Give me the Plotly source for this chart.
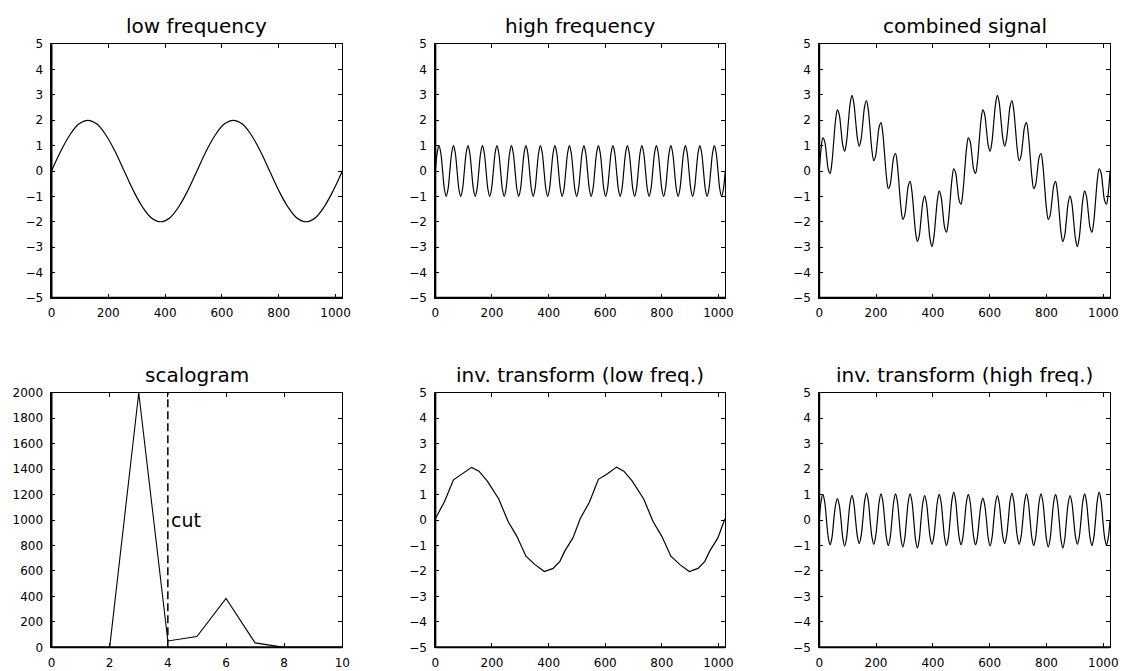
import plotly.graph_objects as go
from plotly.subplots import make_subplots

# ---------------- data ----------------
N_MAX = 1024
STEP_SLOW = 32.0     # sample spacing for the slow sine
STEP_FAST = 6.4      # sample spacing for the fast (20-cycle) traces

LOW = [0, 0.77, 1.41, 1.85, 2.0, 1.85, 1.41, 0.77, 0, -0.77, -1.41, -1.85, -2.0, -1.85, -1.41, -0.77,
       0, 0.77, 1.41, 1.85, 2.0, 1.85, 1.41, 0.77, 0, -0.77, -1.41, -1.85, -2.0, -1.85, -1.41, -0.77, 0]

HIGH = [0, 0.71, 1, 0.71, 0, -0.71, -1, -0.71, 0, 0.71, 1, 0.71, 0, -0.71, -1, -0.71,
        0, 0.71, 1, 0.71, 0, -0.71, -1, -0.71, 0, 0.71, 1, 0.71, 0, -0.71, -1, -0.71,
        0, 0.71, 1, 0.71, 0, -0.71, -1, -0.71, 0, 0.71, 1, 0.71, 0, -0.71, -1, -0.71,
        0, 0.71, 1, 0.71, 0, -0.71, -1, -0.71, 0, 0.71, 1, 0.71, 0, -0.71, -1, -0.71,
        0, 0.71, 1, 0.71, 0, -0.71, -1, -0.71, 0, 0.71, 1, 0.71, 0, -0.71, -1, -0.71,
        0, 0.71, 1, 0.71, 0, -0.71, -1, -0.71, 0, 0.71, 1, 0.71, 0, -0.71, -1, -0.71,
        0, 0.71, 1, 0.71, 0, -0.71, -1, -0.71, 0, 0.71, 1, 0.71, 0, -0.71, -1, -0.71,
        0, 0.71, 1, 0.71, 0, -0.71, -1, -0.71, 0, 0.71, 1, 0.71, 0, -0.71, -1, -0.71,
        0, 0.71, 1, 0.71, 0, -0.71, -1, -0.71, 0, 0.71, 1, 0.71, 0, -0.71, -1, -0.71,
        0, 0.71, 1, 0.71, 0, -0.71, -1, -0.71, 0, 0.71, 1, 0.71, 0, -0.71, -1, -0.71, 0]

COMBINED = [0, 0.86, 1.31, 1.17, 0.62, 0.06, -0.09, 0.34, 1.18, 2.01, 2.41, 2.23, 1.62, 1.0, 0.78, 1.14,
            1.90, 2.65, 2.98, 2.70, 2.0, 1.29, 0.98, 1.24, 1.90, 2.56, 2.78, 2.41, 1.62, 0.81, 0.41, 0.59,
            1.18, 1.75, 1.91, 1.47, 0.62, -0.24, -0.69, -0.55, 0, 0.55, 0.69, 0.24, -0.62, -1.47, -1.91, -1.75,
            -1.18, -0.59, -0.41, -0.81, -1.62, -2.41, -2.78, -2.56, -1.90, -1.24, -0.98, -1.29, -2.0, -2.70, -2.98, -2.65,
            -1.90, -1.14, -0.78, -1.0, -1.62, -2.23, -2.41, -2.01, -1.18, -0.34, 0.09, -0.06, -0.62, -1.17, -1.31, -0.86,
            0, 0.86, 1.31, 1.17, 0.62, 0.06, -0.09, 0.34, 1.18, 2.01, 2.41, 2.23, 1.62, 1.0, 0.78, 1.14,
            1.90, 2.65, 2.98, 2.70, 2.0, 1.29, 0.98, 1.24, 1.90, 2.56, 2.78, 2.41, 1.62, 0.81, 0.41, 0.59,
            1.18, 1.75, 1.91, 1.47, 0.62, -0.24, -0.69, -0.55, 0, 0.55, 0.69, 0.24, -0.62, -1.47, -1.91, -1.75,
            -1.18, -0.59, -0.41, -0.81, -1.62, -2.41, -2.78, -2.56, -1.90, -1.24, -0.98, -1.29, -2.0, -2.70, -2.98, -2.65,
            -1.90, -1.14, -0.78, -1.0, -1.62, -2.23, -2.41, -2.01, -1.18, -0.34, 0.09, -0.06, -0.62, -1.17, -1.31, -0.86, 0]

SCALE_LEVEL = [0, 1, 2, 3, 4, 5, 6, 7, 8, 9, 10]
SCALE_ENERGY = [0, 0, 0, 2000, 50, 85, 385, 35, 0, 0, 0]
CUT_LEVEL = 4

INV_LOW_X = [0, 32, 64, 96, 128, 154, 183, 224, 257, 288, 320, 352, 385, 416, 440, 457, 486,
             512, 544, 576, 608, 640, 666, 695, 736, 769, 800, 832, 864, 897, 928, 952, 969, 998, 1023]
INV_LOW_Y = [0.05, 0.72, 1.58, 1.82, 2.07, 1.92, 1.54, 0.83, -0.06, -0.64, -1.42, -1.75, -2.02, -1.90, -1.62, -1.22, -0.70,
             0.06, 0.70, 1.60, 1.82, 2.08, 1.92, 1.54, 0.83, -0.06, -0.64, -1.42, -1.75, -2.02, -1.90, -1.62, -1.22, -0.70, 0.05]

INV_HIGH = [0, 0.72, 1.01, 0.72, 0, -0.69, -0.97, -0.69,
            0, 0.60, 0.84, 0.60, 0, -0.72, -1.02, -0.72,
            0, 0.69, 0.97, 0.69, 0, -0.65, -0.92, -0.65,
            0, 0.75, 1.06, 0.75, 0, -0.67, -0.95, -0.67,
            0, 0.73, 1.03, 0.73, 0, -0.71, -1.00, -0.71,
            0, 0.73, 1.03, 0.73, 0, -0.75, -1.06, -0.75,
            0, 0.73, 1.03, 0.73, 0, -0.78, -1.10, -0.78,
            0, 0.68, 0.96, 0.68, 0, -0.67, -0.95, -0.67,
            0, 0.72, 1.01, 0.72, 0, -0.71, -1.00, -0.71,
            0, 0.78, 1.10, 0.78, 0, -0.69, -0.97, -0.69,
            0, 0.72, 1.01, 0.72, 0, -0.69, -0.97, -0.69,
            0, 0.61, 0.86, 0.61, 0, -0.72, -1.02, -0.72,
            0, 0.68, 0.96, 0.68, 0, -0.65, -0.92, -0.65,
            0, 0.75, 1.06, 0.75, 0, -0.67, -0.95, -0.67,
            0, 0.73, 1.03, 0.73, 0, -0.71, -1.00, -0.71,
            0, 0.73, 1.03, 0.73, 0, -0.75, -1.06, -0.75,
            0, 0.72, 1.01, 0.72, 0, -0.78, -1.10, -0.78,
            0, 0.68, 0.96, 0.68, 0, -0.67, -0.95, -0.67,
            0, 0.73, 1.03, 0.73, 0, -0.71, -1.00, -0.71,
            0, 0.78, 1.10, 0.78, 0, -0.69, -0.97, -0.69, 0]

TITLES = ["low frequency", "high frequency", "combined signal",
          "scalogram", "inv. transform (low freq.)", "inv. transform (high freq.)"]

SIGNAL_TICKS_X = [0, 200, 400, 600, 800, 1000]
SIGNAL_TICKS_Y = [-5, -4, -3, -2, -1, 0, 1, 2, 3, 4, 5]
SCALE_TICKS_X = [0, 2, 4, 6, 8, 10]
SCALE_TICKS_Y = [0, 200, 400, 600, 800, 1000, 1200, 1400, 1600, 1800, 2000]

# ---------------- figure ----------------
W, H = 1126, 671
FONT = "DejaVu Sans"

x_slow = [i * STEP_SLOW for i in range(len(LOW))]
x_fast = [i * STEP_FAST for i in range(len(HIGH))]

fig = make_subplots(rows=2, cols=3)

line_style = dict(color="black", width=1.2)
spline = dict(color="black", width=1.2, shape="spline", smoothing=1.0)

fig.add_trace(go.Scatter(x=x_slow, y=LOW, mode="lines", line=spline), row=1, col=1)
fig.add_trace(go.Scatter(x=x_fast, y=HIGH, mode="lines", line=spline), row=1, col=2)
fig.add_trace(go.Scatter(x=x_fast, y=COMBINED, mode="lines", line=spline), row=1, col=3)
fig.add_trace(go.Scatter(x=SCALE_LEVEL, y=SCALE_ENERGY, mode="lines", line=dict(color="black", width=1.1)),
              row=2, col=1)
fig.add_trace(go.Scatter(x=INV_LOW_X, y=INV_LOW_Y, mode="lines", line=line_style), row=2, col=2)
fig.add_trace(go.Scatter(x=[i * STEP_FAST for i in range(len(INV_HIGH))], y=INV_HIGH, mode="lines", line=spline),
              row=2, col=3)

# panel boxes in pixels: (left, right) and (top, bottom)
cols_px = [(48, 342), (436, 729), (824, 1118)]
rows_px = [(38, 297), (394, 654)]

axis_common = dict(
    ticks="inside", ticklen=4, tickwidth=1, tickcolor="black",
    showline=True, linecolor="black", linewidth=1, mirror="ticks",
    showgrid=False, zeroline=False,
    tickfont=dict(family=FONT, size=12, color="black"),
)

for r in range(2):
    for c in range(3):
        idx = r * 3 + c + 1
        xa = "xaxis" if idx == 1 else f"xaxis{idx}"
        ya = "yaxis" if idx == 1 else f"yaxis{idx}"
        x0, x1 = cols_px[c]
        t, b = rows_px[r]
        if idx == 4:
            xr, xt, yr, yt = [0, 10], SCALE_TICKS_X, [0, 2000], SCALE_TICKS_Y
        else:
            xr, xt, yr, yt = [0, N_MAX], SIGNAL_TICKS_X, [-5, 5], SIGNAL_TICKS_Y
        fig.layout[xa].update(domain=[x0 / W, x1 / W], range=xr, tickvals=xt,
                              ticklabelstandoff=4, **axis_common)
        fig.layout[ya].update(domain=[1 - b / H, 1 - t / H], range=yr, tickvals=yt,
                              ticklabelstandoff=5, **axis_common)

        xd = "x domain" if idx == 1 else f"x{idx} domain"
        yd = "y domain" if idx == 1 else f"y{idx} domain"
        # heavier left and bottom frame edges
        fig.add_shape(type="line", xref=xd, yref=yd, x0=0, x1=0, y0=0, y1=1,
                      line=dict(color="black", width=2))
        fig.add_shape(type="line", xref=xd, yref=yd, x0=0, x1=1, y0=0, y1=0,
                      line=dict(color="black", width=2))
        fig.add_annotation(text=TITLES[idx - 1], xref=xd, yref=yd, x=0.5, y=1,
                           xanchor="center", yanchor="bottom", yshift=4, showarrow=False,
                           font=dict(family=FONT, size=20, color="black"))

# threshold marker on the scalogram
fig.add_shape(type="line", xref="x4", yref="y4", x0=CUT_LEVEL, x1=CUT_LEVEL, y0=0, y1=2000,
              line=dict(color="black", width=1.5, dash="8px,4px"))
fig.add_annotation(text="cut", xref="x4", yref="y4", x=CUT_LEVEL, y=1000, xanchor="left",
                   yanchor="middle", xshift=1, showarrow=False,
                   font=dict(family=FONT, size=19, color="black"))

fig.update_layout(width=W, height=H, margin=dict(l=0, r=0, t=0, b=0),
                  paper_bgcolor="white", plot_bgcolor="white", showlegend=False)

fig.write_html("out.html")
